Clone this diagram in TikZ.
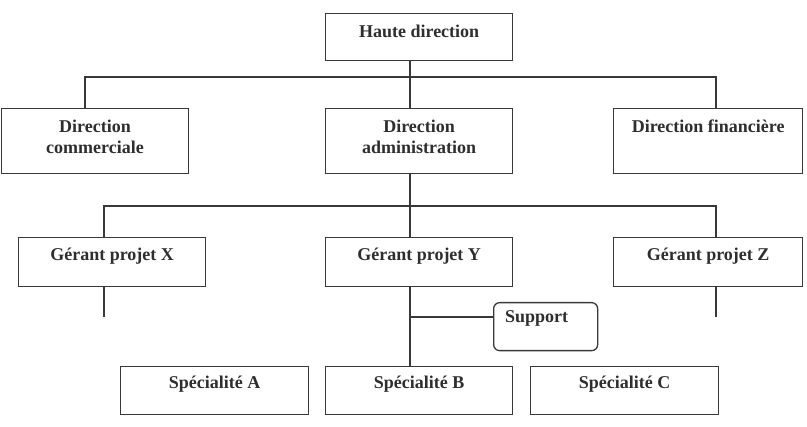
\documentclass[tikz,border=0pt]{standalone}
\usepackage{fontspec}
\setmainfont{Liberation Serif}
\begin{document}
\begin{tikzpicture}[x=1pt,y=-1pt,
  box/.style={draw=black!78, line width=1.3pt, rectangle, inner sep=0pt, anchor=north west},
  rbox/.style={box, rounded corners=6pt},
  lbl/.style={font=\bfseries\fontsize{18}{21}\selectfont, text=black!82, align=center, inner sep=0pt},
  conn/.style={draw=black!78, line width=1.1pt}]
\useasboundingbox (0,0) rectangle (807,427);
% boxes
\node[box, minimum width=187pt, minimum height=47pt] (haute) at (325,13) {};
\node[box, minimum width=187pt, minimum height=65pt] (comm) at (0.8,108) {};
\node[box, minimum width=187pt, minimum height=65pt] (admin) at (325,108) {};
\node[box, minimum width=189pt, minimum height=65pt] (fin) at (613,108) {};
\node[box, minimum width=187pt, minimum height=49pt] (gx) at (18,237) {};
\node[box, minimum width=187pt, minimum height=49pt] (gy) at (325,237) {};
\node[box, minimum width=189pt, minimum height=49pt] (gz) at (613,237) {};
\node[rbox, minimum width=104pt, minimum height=48pt] (sup) at (493,302) {};
\node[box, minimum width=188pt, minimum height=48pt] (sa) at (120,366) {};
\node[box, minimum width=187pt, minimum height=48pt] (sb) at (325,366) {};
\node[box, minimum width=188pt, minimum height=48pt] (sc) at (530,366) {};
% labels
\node[lbl, below=11.6pt] (hauteT) at (haute.north) {Haute direction};
\node[lbl, below=11.6pt] (commT) at (comm.north) {Direction\\commerciale};
\node[lbl, below=11.6pt] (adminT) at (admin.north) {Direction\\administration};
\node[lbl, below=11.6pt] (finT) at (fin.north) {Direction financière};
\node[lbl, below=10.4pt] (gxT) at (gx.north) {Gérant projet X};
\node[lbl, below=10.4pt] (gyT) at (gy.north) {Gérant projet Y};
\node[lbl, below=10.4pt] (gzT) at (gz.north) {Gérant projet Z};
\node[lbl, anchor=north west, xshift=12pt, yshift=-8.5pt] (supT) at (sup.north west) {Support};
\node[lbl, below=9.4pt] (saT) at (sa.north) {Spécialité A};
\node[lbl, below=9.4pt] (sbT) at (sb.north) {Spécialité B};
\node[lbl, below=9.4pt] (scT) at (sc.north) {Spécialité C};
% bus coordinates
\coordinate (bL1) at (85,77);
\coordinate (bC1) at (410,77);
\coordinate (bR1) at (716,77);
\coordinate (bL2) at (104,206);
\coordinate (bC2) at (410,206);
\coordinate (bR2) at (716,206);
\coordinate (sx) at (104,317);
\coordinate (sz) at (716,317);
\coordinate (js) at (410,317);
% connectors
\draw[conn] (comm.north -| bL1) -- (bL1) -- (bR1) -- (fin.north -| bR1);
\draw[conn] (haute.south -| bC1) -- (admin.north -| bC1);
\draw[conn] (gx.north -| bL2) -- (bL2) -- (bR2) -- (gz.north -| bR2);
\draw[conn] (admin.south -| bC2) -- (gy.north -| bC2);
\draw[conn] (gx.south -| sx) -- (sx);
\draw[conn] (gz.south -| sz) -- (sz);
\draw[conn] (gy.south -| bC2) -- (sb.north -| bC2);
\draw[conn] (js) -- (js -| sup.west);
\end{tikzpicture}
\end{document}
